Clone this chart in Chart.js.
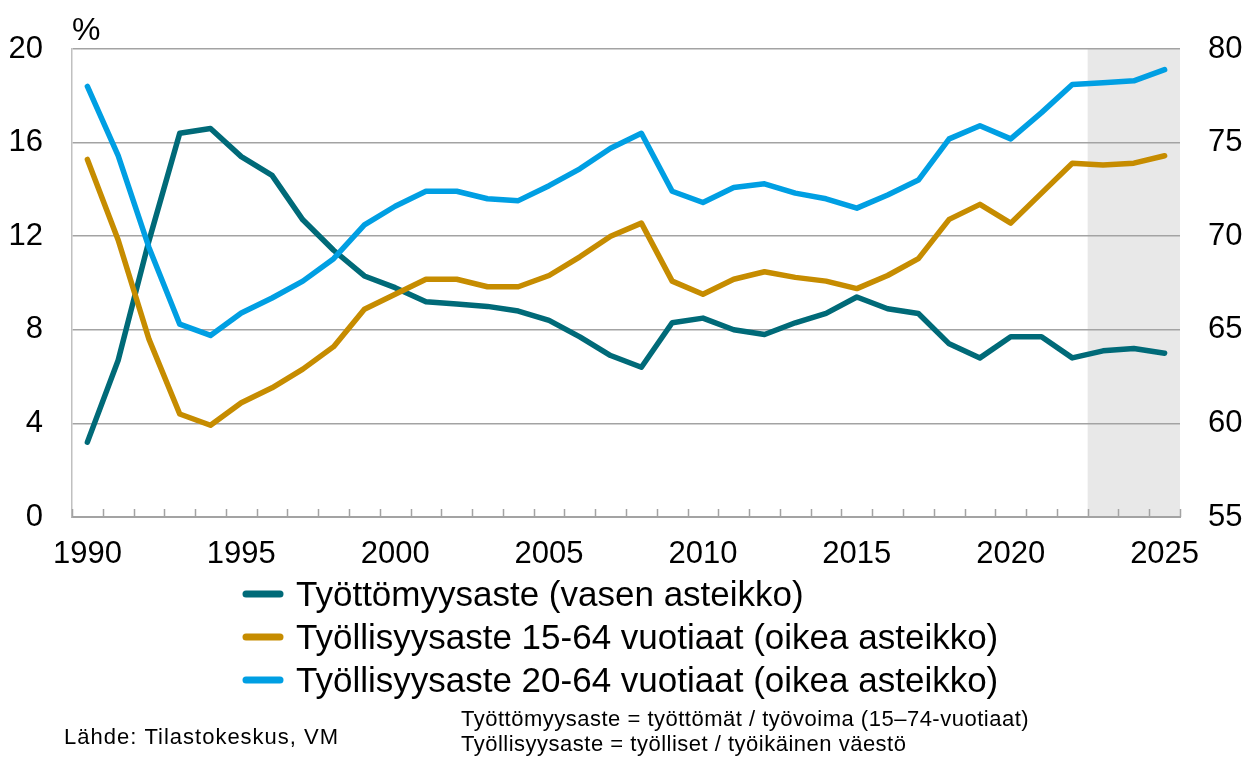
<!DOCTYPE html>
<html lang="fi">
<head>
<meta charset="UTF-8" />
<title>Työttömyys- ja työllisyysaste</title>
<script src="https://cdn.jsdelivr.net/npm/chart.js"></script>
<style>
  html, body { margin: 0; padding: 0; background: #fff; }
  #wrap { width: 1246px; height: 757px; position: relative; }
</style>
</head>
<body>
<div id="wrap"><canvas id="myChart"></canvas></div>
<script>
// vuodet 1990-2025
const years = ['1990','1991','1992','1993','1994','1995','1996','1997','1998','1999',
  '2000','2001','2002','2003','2004','2005','2006','2007','2008','2009',
  '2010','2011','2012','2013','2014','2015','2016','2017','2018','2019',
  '2020','2021','2022','2023','2024','2025'];

// työttömyysaste, % (vasen asteikko)
const unemployment = [3.2, 6.7, 11.8, 16.4, 16.6, 15.4, 14.6, 12.7, 11.4, 10.3,
  9.8, 9.2, 9.1, 9.0, 8.8, 8.4, 7.7, 6.9, 6.4, 8.3,
  8.5, 8.0, 7.8, 8.3, 8.7, 9.4, 8.9, 8.7, 7.4, 6.8,
  7.7, 7.7, 6.8, 7.1, 7.2, 7.0];

// työllisyysaste 15-64 (oikea asteikko)
const employment1564 = [74.1, 69.8, 64.5, 60.5, 59.9, 61.1, 61.9, 62.9, 64.1, 66.1,
  66.9, 67.7, 67.7, 67.3, 67.3, 67.9, 68.9, 70.0, 70.7, 67.6,
  66.9, 67.7, 68.1, 67.8, 67.6, 67.2, 67.9, 68.8, 70.9, 71.7,
  70.7, 72.3, 73.9, 73.8, 73.9, 74.3];

// työllisyysaste 20-64 (oikea asteikko)
const employment2064 = [78.0, 74.3, 69.4, 65.3, 64.7, 65.9, 66.7, 67.6, 68.8, 70.6,
  71.6, 72.4, 72.4, 72.0, 71.9, 72.7, 73.6, 74.7, 75.5, 72.4,
  71.8, 72.6, 72.8, 72.3, 72.0, 71.5, 72.2, 73.0, 75.2, 75.9,
  75.2, 76.6, 78.1, 78.2, 78.3, 78.9];

const leftTicks = [0, 4, 8, 12, 16, 20];
const rightTicks = [55, 60, 65, 70, 75, 80];
const forecastFrom = '2023';

const labels = [
  'Työttömyysaste (vasen asteikko)',
  'Työllisyysaste 15-64 vuotiaat (oikea asteikko)',
  'Työllisyysaste 20-64 vuotiaat (oikea asteikko)'
];
const notes = [
  'Työttömyysaste = työttömät / työvoima (15–74-vuotiaat)',
  'Työllisyysaste = työlliset / työikäinen väestö'
];
const source = 'Lähde: Tilastokeskus, VM';

const FONT = '"Liberation Sans", Arial, sans-serif';
const gridGray = '#a3a3a3';

// ennusteen harmaa tausta
const shadePlugin = {
  id: 'shade',
  beforeDraw(chart) {
    const { ctx, chartArea, scales } = chart;
    const i = years.indexOf(forecastFrom);
    const x0 = (scales.x.getPixelForValue(i - 1) + scales.x.getPixelForValue(i)) / 2;
    ctx.save();
    ctx.fillStyle = '#e8e8e8';
    ctx.fillRect(x0, chartArea.top, chartArea.right - x0, chartArea.bottom - chartArea.top);
    ctx.restore();
  }
};

// pienet väkäset x-akselilla ylöspäin
const tickPlugin = {
  id: 'upTicks',
  beforeDatasetsDraw(chart) {
    const { ctx, chartArea } = chart;
    const n = years.length;
    const w = (chartArea.right - chartArea.left) / n;
    ctx.save();
    ctx.strokeStyle = gridGray;
    ctx.lineWidth = 1.5;
    ctx.beginPath();
    for (let i = 0; i <= n; i++) {
      const x = Math.round(chartArea.left + i * w) + 0.5;
      ctx.moveTo(x, chartArea.bottom);
      ctx.lineTo(x, chartArea.bottom - 8);
    }
    ctx.stroke();
    ctx.restore();
  }
};

// selite, yksikkö ja alaviitteet
const textPlugin = {
  id: 'texts',
  afterDraw(chart) {
    const { ctx } = chart;
    ctx.save();
    ctx.fillStyle = '#000';
    ctx.textBaseline = 'alphabetic';
    ctx.textAlign = 'left';
    ctx.font = '32px ' + FONT;
    ctx.fillText('%', 72, 40);

    chart.data.datasets.forEach((ds, i) => {
      const y = 594 + i * 43;
      ctx.strokeStyle = ds.borderColor;
      ctx.lineWidth = 7;
      ctx.lineCap = 'round';
      ctx.beginPath();
      ctx.moveTo(246, y);
      ctx.lineTo(280, y);
      ctx.stroke();
      ctx.font = '35px ' + FONT;
      ctx.fillText(ds.label, 296, y + 12);
    });

    ctx.font = '22px ' + FONT;
    ctx.letterSpacing = '1px';
    ctx.fillText(source, 64, 744);
    ctx.letterSpacing = '0.5px';
    ctx.fillText(notes[0], 461, 726);
    ctx.fillText(notes[1], 461, 751);
    ctx.restore();
  }
};

const ctx = document.getElementById('myChart').getContext('2d');
const myChart = new Chart(ctx, {
  type: 'line',
  data: {
    labels: years,
    datasets: [
      {
        label: labels[0],
        data: unemployment,
        yAxisID: 'y',
        borderColor: '#006a78',
        order: 3
      },
      {
        label: labels[1],
        data: employment1564,
        yAxisID: 'y1',
        borderColor: '#c68c00',
        order: 2
      },
      {
        label: labels[2],
        data: employment2064,
        yAxisID: 'y1',
        borderColor: '#009fe3',
        order: 1
      }
    ]
  },
  options: {
    responsive: true,
    maintainAspectRatio: false,
    animation: false,
    elements: {
      point: { radius: 0, hoverRadius: 0 },
      line: { borderWidth: 5.5, tension: 0, borderCapStyle: 'round', borderJoinStyle: 'round', fill: false }
    },
    layout: { padding: { top: 49, bottom: 180, left: 0, right: 0 } },
    plugins: {
      legend: { display: false },
      tooltip: { enabled: false }
    },
    scales: {
      x: {
        type: 'category',
        offset: true,
        grid: { display: true, drawOnChartArea: false, drawTicks: false, offset: true },
        border: { display: true, color: gridGray, width: 2 },
        ticks: {
          autoSkip: false,
          maxRotation: 0,
          minRotation: 0,
          padding: 19,
          color: '#000',
          font: { family: FONT, size: 31 },
          callback: function (value) {
            const yr = this.getLabelForValue(value);
            return Number(yr) % 5 === 0 ? yr : '';
          }
        },
        afterFit(scale) { scale.height = 60; }
      },
      y: {
        position: 'left',
        min: leftTicks[0],
        max: leftTicks[leftTicks.length - 1],
        afterBuildTicks(scale) { scale.ticks = leftTicks.map(v => ({ value: v })); },
        grid: { color: gridGray, lineWidth: 1.5, drawTicks: false },
        border: { display: true, color: '#c0c0c0', width: 1.5 },
        ticks: { padding: 29, color: '#000', font: { family: FONT, size: 31 } },
        afterFit(scale) { scale.width = 72; }
      },
      y1: {
        position: 'right',
        min: rightTicks[0],
        max: rightTicks[rightTicks.length - 1],
        afterBuildTicks(scale) { scale.ticks = rightTicks.map(v => ({ value: v })); },
        grid: { drawOnChartArea: false, drawTicks: false },
        border: { display: false },
        ticks: { padding: 28, color: '#000', font: { family: FONT, size: 31 } },
        afterFit(scale) { scale.width = 66; }
      }
    }
  },
  plugins: [shadePlugin, tickPlugin, textPlugin]
});
</script>
</body>
</html>
